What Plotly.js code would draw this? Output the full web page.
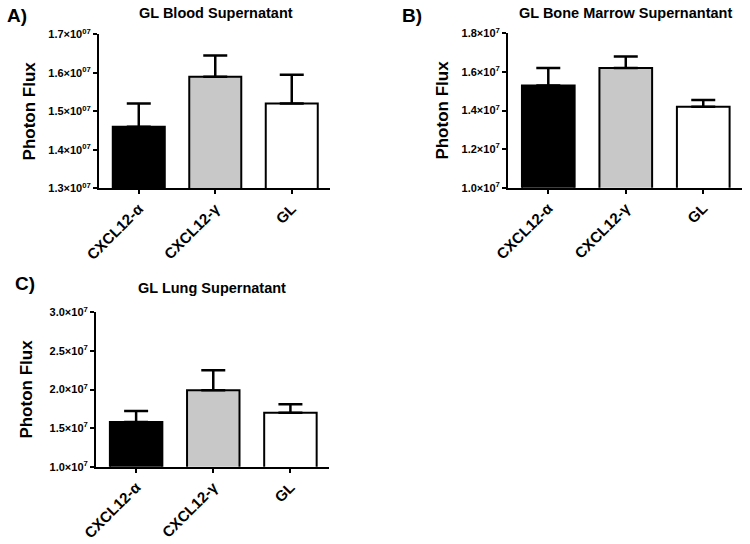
<!DOCTYPE html>
<html>
<head>
<meta charset="utf-8">
<script src="https://cdn.plot.ly/plotly-3.0.1.min.js"></script>
<style>html,body{margin:0;padding:0;background:#fff;}#chart{width:750px;height:544px;}</style>
</head>
<body>
<div id="chart"></div>
<script>
// ---- data ----
const categories = ["CXCL12-α", "CXCL12-γ", "GL"];
const barColors = ["#000000", "#c8c8c8", "#ffffff"];

const bloodMean = [1.46e7, 1.59e7, 1.52e7];
const bloodSem  = [0.06e7, 0.055e7, 0.075e7];

const marrowMean = [1.53e7, 1.62e7, 1.42e7];
const marrowSem  = [0.09e7, 0.06e7, 0.035e7];

const lungMean = [1.58e7, 1.99e7, 1.70e7];
const lungSem  = [0.14e7, 0.26e7, 0.11e7];

const bloodTickVals = [1.3e7, 1.4e7, 1.5e7, 1.6e7, 1.7e7];
const bloodTickText = ["1.3×10<sup>07</sup>", "1.4×10<sup>07</sup>", "1.5×10<sup>07</sup>", "1.6×10<sup>07</sup>", "1.7×10<sup>07</sup>"];
const marrowTickVals = [1.0e7, 1.2e7, 1.4e7, 1.6e7, 1.8e7];
const marrowTickText = ["1.0×10<sup>7</sup>", "1.2×10<sup>7</sup>", "1.4×10<sup>7</sup>", "1.6×10<sup>7</sup>", "1.8×10<sup>7</sup>"];
const lungTickVals = [1.0e7, 1.5e7, 2.0e7, 2.5e7, 3.0e7];
const lungTickText = ["1.0×10<sup>7</sup>", "1.5×10<sup>7</sup>", "2.0×10<sup>7</sup>", "2.5×10<sup>7</sup>", "3.0×10<sup>7</sup>"];

const titles = ["GL Blood Supernatant", "GL Bone Marrow Supernantant", "GL Lung Supernatant"];
const panelLabels = ["A)", "B)", "C)"];
const yTitle = "Photon Flux";

// ---- build ----
const FONT = "Liberation Sans, Arial, sans-serif";
function barTrace(mean, sem, xa, ya) {
  return {
    type: "bar", x: categories, y: mean, xaxis: xa, yaxis: ya,
    width: 0.68,
    marker: {color: barColors, line: {color: "#000", width: 2}},
    error_y: {type: "data", symmetric: false, array: sem, arrayminus: sem.map(() => 0),
              color: "#000", thickness: 2.5, width: 12},
    showlegend: false, hoverinfo: "x+y"
  };
}
const data = [
  barTrace(bloodMean, bloodSem, "x", "y"),
  barTrace(marrowMean, marrowSem, "x2", "y2"),
  barTrace(lungMean, lungSem, "x3", "y3")
];

function xAxis(domain, anchor) {
  return {
    domain: domain, anchor: anchor, range: [-0.52, 2.5], fixedrange: true,
    showline: true, linecolor: "#000", linewidth: 2, mirror: false,
    ticks: "outside", ticklen: 4, tickwidth: 1.5, tickcolor: "#000",
    tickangle: -45, showgrid: false, zeroline: false,
    tickfont: {family: FONT, size: 15, color: "#000", weight: "bold"}
  };
}
function yAxis(domain, anchor, range, tv, tt, standoff) {
  return {
    domain: domain, anchor: anchor, range: range, fixedrange: true,
    tickmode: "array", tickvals: tv, ticktext: tt,
    showline: true, linecolor: "#000", linewidth: 2,
    ticks: "outside", ticklen: 4, tickwidth: 1.5, tickcolor: "#000",
    showgrid: false, zeroline: false,
    tickfont: {family: FONT, size: 11, color: "#000", weight: "bold"},
    title: {text: yTitle, font: {family: FONT, size: 17, color: "#000", weight: "bold"}, standoff: standoff}
  };
}

const layout = {
  width: 750, height: 544,
  margin: {l: 0, r: 0, t: 0, b: 0},
  paper_bgcolor: "#fff", plot_bgcolor: "rgba(0,0,0,0)",
  font: {family: FONT, color: "#000"},
  xaxis:  xAxis([99/750, 330/750], "y"),
  yaxis:  yAxis([1-188.3/544, 1-34.3/544], "x", [1.3e7, 1.7e7], bloodTickVals, bloodTickText, 8),
  xaxis2: xAxis([508/750, 742/750], "y2"),
  yaxis2: yAxis([1-187.7/544, 1-33.3/544], "x2", [1.0e7, 1.8e7], marrowTickVals, marrowTickText, 9),
  xaxis3: xAxis([96/750, 329/750], "y3"),
  yaxis3: yAxis([1-466.7/544, 1-312.3/544], "x3", [1.0e7, 3.0e7], lungTickVals, lungTickText, 13),
  annotations: [
    {text: titles[0], x: 216/750, y: 1-13/544, xref: "paper", yref: "paper", showarrow: false, xanchor: "center", yanchor: "middle", font: {family: FONT, size: 14.5, weight: "bold"}},
    {text: titles[1], x: 625/750, y: 1-13/544, xref: "paper", yref: "paper", showarrow: false, xanchor: "center", yanchor: "middle", font: {family: FONT, size: 14.5, weight: "bold"}},
    {text: titles[2], x: 212/750, y: 1-288/544, xref: "paper", yref: "paper", showarrow: false, xanchor: "center", yanchor: "middle", font: {family: FONT, size: 14.5, weight: "bold"}},
    {text: panelLabels[0], x: 5/750, y: 1-15/544, xref: "paper", yref: "paper", showarrow: false, xanchor: "left", yanchor: "middle", font: {family: FONT, size: 19, weight: "bold"}},
    {text: panelLabels[1], x: 400/750, y: 1-15/544, xref: "paper", yref: "paper", showarrow: false, xanchor: "left", yanchor: "middle", font: {family: FONT, size: 19, weight: "bold"}},
    {text: panelLabels[2], x: 13/750, y: 1-283/544, xref: "paper", yref: "paper", showarrow: false, xanchor: "left", yanchor: "middle", font: {family: FONT, size: 19, weight: "bold"}}
  ]
};

Plotly.newPlot("chart", data, layout, {displayModeBar: false});
</script>
</body>
</html>
